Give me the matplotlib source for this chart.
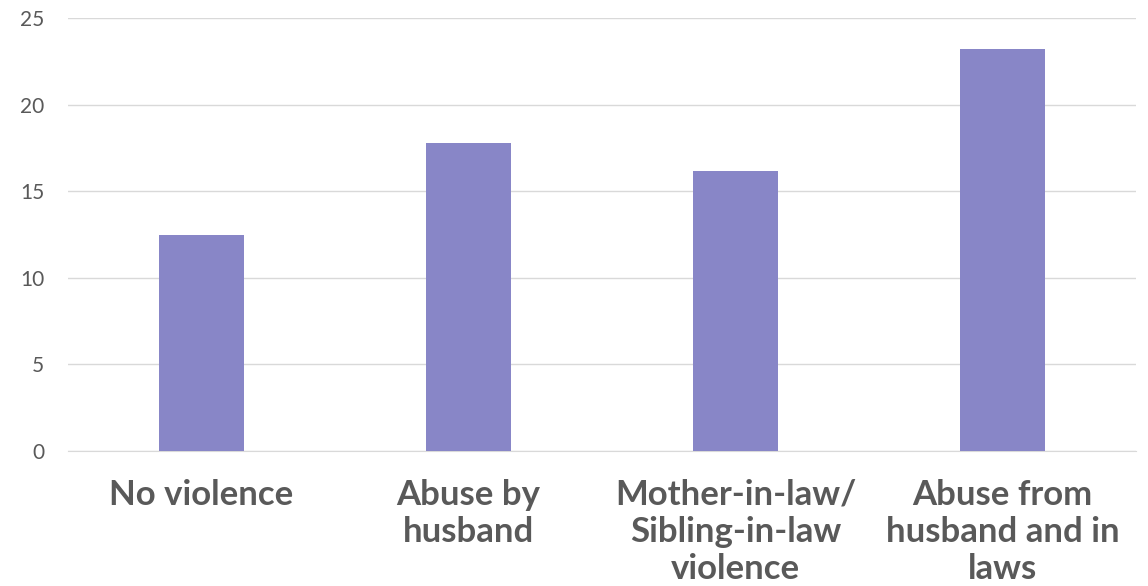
import matplotlib
matplotlib.use("Agg")
import matplotlib.pyplot as plt

categories = ["No violence", "Abuse by\nhusband", "Mother-in-law/\nSibling-in-law\nviolence", "Abuse from\nhusband and in\nlaws"]
values = [12.45, 17.8, 16.15, 23.2]
yticks = [0, 5, 10, 15, 20, 25]

plt.rcParams['font.family'] = ['Lato', 'DejaVu Sans']
fig = plt.figure(figsize=(11.48, 5.86), dpi=100)
ax = fig.add_axes([68/1148, (586-451)/586, (1136-68)/1148, (451-18)/586])
x = range(len(categories))
ax.bar(x, values, width=0.315, color="#8886C7", zorder=3)
ax.set_xlim(-0.5, len(categories) - 0.5)
ax.set_ylim(0, 25)
ax.set_yticks(yticks)
ax.set_yticklabels([str(t) for t in yticks], color="#595959", fontsize=15)
ax.yaxis.grid(True, color="#D9D9D9", linewidth=1, zorder=0)
ax.tick_params(axis='y', length=0, pad=17)
ax.tick_params(axis='x', length=0, pad=20)
ax.set_xticks(list(x))
ax.set_xticklabels(categories, fontsize=25, fontweight='bold', color="#595959", va='top', linespacing=1.2)
for s in ['top', 'right', 'left']:
    ax.spines[s].set_visible(False)
ax.spines['bottom'].set_color("#D9D9D9")
ax.set_axisbelow(True)
fig.savefig("out.png", dpi=100)
